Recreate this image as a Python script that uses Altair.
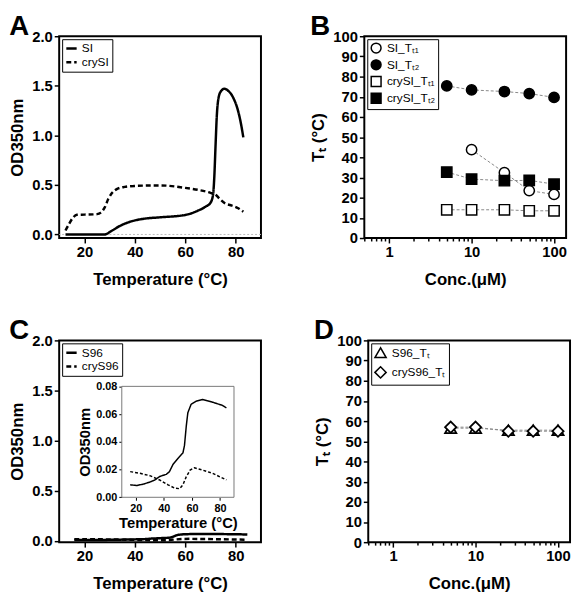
import altair as alt
import pandas as pd

FONT = "Liberation Sans"

# ---------------- data ----------------
# Panel A : OD350nm vs temperature
a_si_temp = [12.5, 20, 28, 31, 34, 39, 44, 50, 60, 65, 68, 70, 71, 71.5, 72, 72.5, 73, 74, 75.5, 77, 79, 81, 82.2, 83]
a_si_od = [0.0, 0.0, 0.0, 0.04, 0.085, 0.135, 0.16, 0.173, 0.197, 0.24, 0.28, 0.32, 0.40, 0.58, 0.9, 1.2, 1.35, 1.44, 1.47, 1.45, 1.38, 1.24, 1.1, 0.98]
a_cry_temp = [12.5, 14, 15.5, 17, 20, 25, 26.5, 28, 29.5, 31, 33, 36, 40, 50, 60, 65, 70, 72, 74, 76, 78, 81, 83]
a_cry_od = [0.04, 0.11, 0.17, 0.198, 0.2, 0.205, 0.22, 0.27, 0.36, 0.42, 0.46, 0.48, 0.49, 0.495, 0.47, 0.45, 0.42, 0.40, 0.35, 0.31, 0.295, 0.265, 0.23]
a_series = ["SI", "crySI"]

# Panel B : transition temperature vs concentration
conc = [5, 10, 25, 50, 100]
b_series = ["SI_Tₜ₁", "SI_Tₜ₂", "crySI_Tₜ₁", "crySI_Tₜ₂"]
b_si_tt1 = [None, 43.8, 32.4, 23.5, 21.6]
b_si_tt2 = [75.4, 73.4, 72.6, 71.6, 69.7]
b_cry_tt1 = [14.0, 14.0, 14.0, 13.5, 13.5]
b_cry_tt2 = [32.7, 29.2, 28.4, 28.6, 26.7]

# Panel C : OD350nm vs temperature (S96)
c_s96_temp = [16, 20.7, 25.4, 30, 33.6, 37, 41.8, 44, 46.5, 50, 53.6, 54.7, 56, 57.1, 59.4, 63, 67.7, 74.7, 81.7, 84.6]
c_s96_od = [0.009, 0.0085, 0.0095, 0.011, 0.0125, 0.015, 0.0166, 0.0185, 0.0237, 0.028, 0.032, 0.0374, 0.0516, 0.061, 0.067, 0.0693, 0.0705, 0.0686, 0.0663, 0.0644]
c_cry_temp = [16, 23, 30, 37, 43, 47.7, 51.2, 53.6, 56, 58.7, 61.8, 67.7, 74.7, 84.6]
c_cry_od = [0.0185, 0.0173, 0.0156, 0.0125, 0.009, 0.0066, 0.0062, 0.009, 0.0149, 0.0196, 0.0213, 0.0196, 0.0173, 0.0125]
c_series = ["S96", "cryS96"]

# Panel D
d_series = ["S96_Tₜ", "cryS96_Tₜ"]
d_s96_tt = [56.5, 56.5, 55.5, 55.5, 55.5]
d_cry_tt = [57.0, 57.0, 55.0, 55.0, 55.0]

# ---------------- tables ----------------
dfA = pd.DataFrame({
    "T": a_si_temp + a_cry_temp,
    "OD": a_si_od + a_cry_od,
    "s": [a_series[0]] * len(a_si_temp) + [a_series[1]] * len(a_cry_temp),
})
rowsB = []
for name, vals in zip(b_series, [b_si_tt1, b_si_tt2, b_cry_tt1, b_cry_tt2]):
    for c, v in zip(conc, vals):
        if v is not None:
            rowsB.append({"conc": c, "Tt": v, "s": name})
dfB = pd.DataFrame(rowsB)
dfC = pd.DataFrame({
    "T": c_s96_temp + c_cry_temp,
    "OD": c_s96_od + c_cry_od,
    "s": [c_series[0]] * len(c_s96_temp) + [c_series[1]] * len(c_cry_temp),
})
rowsD = []
for name, vals in zip(d_series, [d_s96_tt, d_cry_tt]):
    for c, v in zip(conc, vals):
        rowsD.append({"conc": c, "Tt": v, "s": name})
dfD = pd.DataFrame(rowsD)

W, H = 205, 205
SOLID_DASH = [[1, 0], [5, 3]]


def panel_title(letter):
    return alt.TitleParams(text=letter, anchor="start", frame="bounds", font=FONT,
                           fontSize=28, fontWeight="bold", color="black", offset=-12)


def line_legend():
    return alt.Legend(title=None, orient="top-left", offset=3, symbolType="stroke",
                      symbolStrokeWidth=2.5, symbolSize=110, symbolStrokeColor="black",
                      labelFontSize=12, padding=3, rowPadding=1, labelOffset=4)


# ---------------- Panel A ----------------
xA = alt.X("T:Q", scale=alt.Scale(domain=[10, 90], nice=False),
           axis=alt.Axis(values=[20, 40, 60, 80], title="Temperature (°C)"))
yA = alt.Y("OD:Q", scale=alt.Scale(domain=[-0.036, 2.0], nice=False),
           axis=alt.Axis(values=[0, 0.5, 1, 1.5, 2], format=".1f", title="OD350nm"))
zeroA = alt.Chart(pd.DataFrame({"OD": [0.0]})).mark_rule(
    color="#bbbbbb", strokeDash=[2, 2], strokeWidth=1).encode(y=alt.Y("OD:Q"))
linesA = alt.Chart(dfA).mark_line(color="black", strokeWidth=2.5, interpolate="monotone").encode(
    x=xA, y=yA,
    strokeDash=alt.StrokeDash("s:N", scale=alt.Scale(domain=a_series, range=SOLID_DASH),
                              legend=line_legend()),
)
chartA = alt.layer(zeroA, linesA).properties(width=W, height=H, title=panel_title("A"))

# ---------------- log x axis helper ----------------
minor_vals = [0.5, 0.6, 0.7, 0.8, 0.9] + list(range(1, 10)) + list(range(10, 100, 10)) + [100]


def log_x():
    return alt.X("conc:Q", scale=alt.Scale(type="log", domain=[0.5, 140], nice=False),
                 axis=alt.Axis(values=minor_vals, format="~g", title="Conc.(μM)",
                               labelExpr="(datum.value == 1 || datum.value == 10 || datum.value == 100) ? datum.label : ''",
                               tickSize={"condition": {"test": "datum.value == 1 || datum.value == 10 || datum.value == 100", "value": 5}, "value": 3},
                               labelOverlap=False))


def tt_y():
    return alt.Y("Tt:Q", scale=alt.Scale(domain=[0, 100], nice=False),
                 axis=alt.Axis(values=list(range(0, 101, 10)), title="Tₜ (°C)"))


# ---------------- Panel B ----------------
linesB = alt.Chart(dfB).mark_line(color="#888888", strokeDash=[3, 2], strokeWidth=1).encode(
    x=log_x(), y=tt_y(), detail="s:N")
legB = alt.Legend(title=None, orient="top-left", offset=3, symbolStrokeWidth=1.5, symbolSize=100,
                  labelFontSize=12, padding=3, rowPadding=1, labelOffset=5)
pointsB = alt.Chart(dfB).mark_point(filled=True, strokeWidth=1.5, size=110, opacity=1).encode(
    x=log_x(), y=tt_y(),
    shape=alt.Shape("s:N", scale=alt.Scale(domain=b_series, range=["circle", "circle", "square", "square"]), legend=legB),
    fill=alt.Fill("s:N", scale=alt.Scale(domain=b_series, range=["white", "black", "white", "black"]), legend=legB),
    stroke=alt.Stroke("s:N", scale=alt.Scale(domain=b_series, range=["black"] * 4), legend=legB),
)
chartB = alt.layer(linesB, pointsB).properties(width=W, height=H, title=panel_title("B"))

# ---------------- Panel C (with inset) ----------------
xC = alt.X("T:Q", scale=alt.Scale(domain=[10, 90], nice=False),
           axis=alt.Axis(values=[20, 40, 60, 80], title="Temperature (°C)"))
yC = alt.Y("OD:Q", scale=alt.Scale(domain=[-0.012, 2.0], nice=False),
           axis=alt.Axis(values=[0, 0.5, 1, 1.5, 2], format=".1f", title="OD350nm"))
mainC = alt.Chart(dfC).mark_line(color="black", strokeWidth=2.5).encode(
    x=xC, y=yC,
    strokeDash=alt.StrokeDash("s:N", scale=alt.Scale(domain=c_series, range=SOLID_DASH),
                              legend=line_legend()),
)

ix_scale = alt.Scale(domain=[10, 90], range=[63.6, 177.6], nice=False)
iy_scale = alt.Scale(domain=[0, 0.08], range=[159.4, 46.7], nice=False)
ix_axis = alt.Axis(orient="bottom", offset=-(H - 159.4), values=[20, 40, 60, 80],
                   title="Temperature (°C)", labelFontSize=11, titleFontSize=15, tickSize=3,
                   tickWidth=1, titlePadding=3)
iy_axis = alt.Axis(orient="left", offset=-63.6, values=[0, 0.02, 0.04, 0.06, 0.08], format=".2f",
                   title="OD350nm", labelFontSize=11, titleFontSize=15, tickSize=3, tickWidth=1,
                   titlePadding=3)
frameC = alt.Chart(pd.DataFrame({"T": [10], "T2": [90], "OD": [0.0], "OD2": [0.08]})).mark_rect(
    fill="white", stroke="#777777", strokeWidth=1).encode(
    x=alt.X("T:Q", scale=ix_scale, axis=ix_axis), x2="T2:Q",
    y=alt.Y("OD:Q", scale=iy_scale, axis=iy_axis), y2="OD2:Q")
insetLines = alt.Chart(dfC).mark_line(color="black", strokeWidth=1.5).encode(
    x=alt.X("T:Q", scale=ix_scale, axis=ix_axis),
    y=alt.Y("OD:Q", scale=iy_scale, axis=iy_axis),
    strokeDash=alt.StrokeDash("s:N", scale=alt.Scale(domain=c_series, range=[[1, 0], [3, 2]]), legend=None),
)
insetC = alt.layer(frameC, insetLines)
chartC = alt.layer(mainC, insetC).resolve_scale(
    x="independent", y="independent", strokeDash="independent"
).properties(width=W, height=H, title=panel_title("C"))

# ---------------- Panel D ----------------
linesD = alt.Chart(dfD).mark_line(color="#888888", strokeDash=[3, 2], strokeWidth=1).encode(
    x=log_x(), y=tt_y(), detail="s:N")
legD = alt.Legend(title=None, orient="top-left", offset=3, symbolStrokeWidth=1.5, symbolSize=130,
                  labelFontSize=12, padding=3, rowPadding=2, labelOffset=5)
pointsD = alt.Chart(dfD).mark_point(filled=True, strokeWidth=1.8, size=130, opacity=1).encode(
    x=log_x(), y=tt_y(),
    shape=alt.Shape("s:N", scale=alt.Scale(domain=d_series, range=["triangle-up", "diamond"]), legend=legD),
    fill=alt.Fill("s:N", scale=alt.Scale(domain=d_series, range=["white", "white"]), legend=legD),
    stroke=alt.Stroke("s:N", scale=alt.Scale(domain=d_series, range=["black", "black"]), legend=legD),
)
chartD = alt.layer(linesD, pointsD).properties(width=W, height=H, title=panel_title("D"))

IND = dict(shape="independent", fill="independent", stroke="independent", strokeDash="independent")
row1 = alt.hconcat(chartA, chartB, spacing=46).resolve_scale(**IND).resolve_legend(**IND)
row2 = alt.hconcat(chartC, chartD, spacing=51).resolve_scale(**IND).resolve_legend(**IND)
chart = alt.vconcat(row1, row2, spacing=29).resolve_scale(**IND).resolve_legend(**IND).properties(
    padding=0
).configure_view(
    stroke="black", strokeWidth=2
).configure_axis(
    labelFont=FONT, labelFontWeight="bold", labelFontSize=15, labelColor="black",
    titleFont=FONT, titleFontWeight="bold", titleFontSize=17, titleColor="black",
    tickColor="black", tickWidth=1.5, tickSize=5, domain=False, grid=False, labelPadding=2,
).configure_axisX(titlePadding=12).configure_axisY(titlePadding=5).configure_legend(
    labelFont=FONT, labelColor="black", strokeColor="black", fillColor="white", cornerRadius=0,
)

chart.save("out.html", embed_options={"renderer": "svg", "actions": False})
